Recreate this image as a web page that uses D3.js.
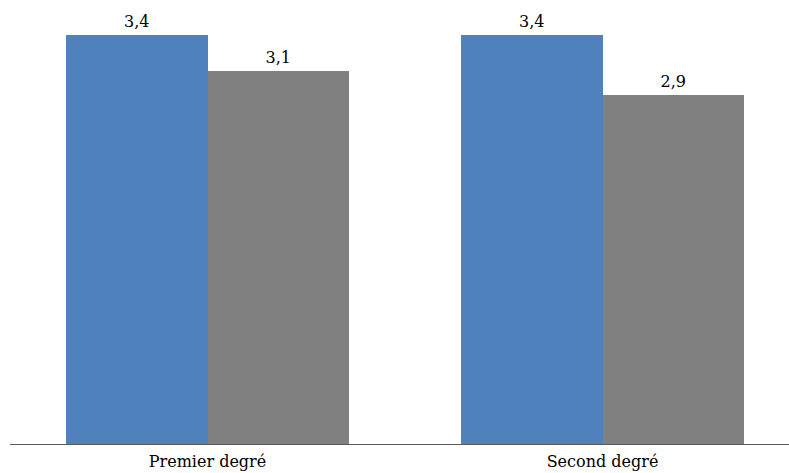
<!DOCTYPE html>
<html>
<head>
<meta charset="utf-8">
<script src="https://cdn.jsdelivr.net/npm/d3@7"></script>
<style>
  html, body { margin: 0; padding: 0; background: #fff; }
  svg text { font-family: "DejaVu Serif", serif; fill: #000; }
</style>
</head>
<body>
<svg id="chart" width="789" height="473"></svg>
<script>
// Categories and series
const categories = ["Premier degré", "Second degré"];
const seriesNames = ["Série 1", "Série 2"];
const seriesA = [3.4, 3.4];
const seriesB = [3.1, 2.9];
const seriesColors = ["#4F81BD", "#808080"];

const rows = categories.map((c, i) => ({ cat: c, values: [seriesA[i], seriesB[i]] }));

const svg = d3.select("#chart");
const baseY = 444.5;

const x0 = d3.scaleBand()
  .domain(categories)
  .range([10, 800])
  .paddingInner(0.284)
  .paddingOuter(0.142);

const x1 = d3.scaleBand()
  .domain(seriesNames)
  .range([0, x0.bandwidth()])
  .padding(0);

const y = d3.scaleLinear()
  .domain([0, 3.4])
  .range([baseY, 34.5]);

const fmt = v => d3.format(".1f")(v).replace(".", ",");

const groups = svg.selectAll("g.group")
  .data(rows)
  .join("g")
  .attr("class", "group")
  .attr("transform", d => `translate(${x0(d.cat)},0)`);

groups.selectAll("rect")
  .data(d => d.values.map((v, j) => ({ v, s: seriesNames[j], j })))
  .join("rect")
  .attr("x", d => x1(d.s))
  .attr("y", d => y(d.v))
  .attr("width", x1.bandwidth())
  .attr("height", d => y(0) - y(d.v))
  .attr("fill", d => seriesColors[d.j])
  .attr("shape-rendering", "crispEdges");

groups.selectAll("text.value")
  .data(d => d.values.map((v, j) => ({ v, s: seriesNames[j] })))
  .join("text")
  .attr("class", "value")
  .attr("x", d => x1(d.s) + x1.bandwidth() / 2)
  .attr("y", d => y(d.v) - 8)
  .attr("text-anchor", "middle")
  .attr("font-size", 16)
  .text(d => fmt(d.v));

// Category axis
const axis = svg.append("g")
  .attr("transform", `translate(0,${baseY})`)
  .call(d3.axisBottom(x0).tickSize(0).tickPadding(0));
axis.select(".domain").remove();
axis.append("line")
  .attr("x1", 10).attr("x2", 789)
  .attr("y1", 0).attr("y2", 0)
  .attr("stroke", "#5a5a5a")
  .attr("stroke-width", 1.2);
axis.selectAll(".tick text")
  .attr("dy", null)
  .attr("y", 22.5)
  .attr("font-size", 16)
  .attr("font-family", "DejaVu Serif, serif")
  .attr("fill", "#000");
</script>
</body>
</html>
